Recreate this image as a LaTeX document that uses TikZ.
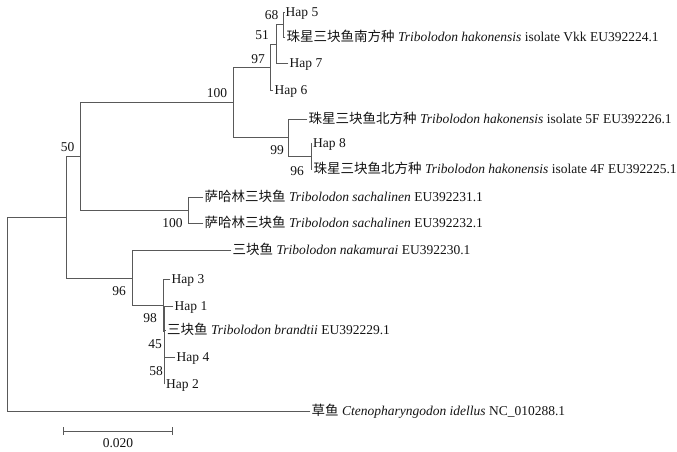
\documentclass[tikz,border=0pt]{standalone}
\usepackage{fontspec}
\setmainfont{Liberation Serif}
\newfontfamily\cjk{Noto Sans CJK SC}
\definecolor{treecol}{gray}{0.35}
\definecolor{txtcol}{gray}{0.08}
\newcommand{\fs}{\fontsize{13.5}{16}\selectfont}
\begin{document}
\begin{tikzpicture}[x=1pt,y=-1pt,
  br/.style={draw=treecol, line width=0.8pt, line cap=rect},
  tip/.style={anchor=west, inner sep=1.5pt, text height=9.5pt, text depth=0pt, font=\fs, text=txtcol},
  bs/.style={inner sep=0pt, font=\fs, text=txtcol}]
\useasboundingbox (0,0) rectangle (677,452);
% tips
\coordinate (tHap5) at (284,12);
\coordinate (tVkk) at (285,37);
\coordinate (tHap7) at (288,63);
\coordinate (tHap6) at (273,90);
\coordinate (t5F) at (307,119);
\coordinate (tHap8) at (311.5,143);
\coordinate (t4F) at (312,169);
\coordinate (tS1) at (203,197);
\coordinate (tS2) at (203,223);
\coordinate (tNak) at (231,250);
\coordinate (tHap3) at (170,279);
\coordinate (tHap1) at (173,306);
\coordinate (tBra) at (165.5,330);
\coordinate (tHap4) at (175,357);
\coordinate (tHap2) at (164.5,384);
\coordinate (tIde) at (310,411);
% internal nodes
\coordinate (n68) at (283.5,24.5);
\coordinate (n51) at (276,44);
\coordinate (n97) at (270,67);
\coordinate (n96a) at (311,156);
\coordinate (n99) at (288,137.5);
\coordinate (n100a) at (233,102.5);
\coordinate (nS) at (188,210);
\coordinate (nX) at (80,156.5);
\coordinate (n58) at (164.5,357);
\coordinate (n45) at (164,331.5);
\coordinate (n98) at (163,305);
\coordinate (n96b) at (132,278);
\coordinate (n50) at (66,217.5);
\coordinate (root) at (7,314);
% branches
\draw[br] (n68) |- (tHap5);
\draw[br] (n68) |- (tVkk);
\draw[br] (n51) |- (n68);
\draw[br] (n51) |- (tHap7);
\draw[br] (n97) |- (n51);
\draw[br] (n97) |- (tHap6);
\draw[br] (n96a) |- (tHap8);
\draw[br] (n96a) |- (t4F);
\draw[br] (n99) |- (t5F);
\draw[br] (n99) |- (n96a);
\draw[br] (n100a) |- (n97);
\draw[br] (n100a) |- (n99);
\draw[br] (nS) |- (tS1);
\draw[br] (nS) |- (tS2);
\draw[br] (nX) |- (n100a);
\draw[br] (nX) |- (nS);
\draw[br] (n58) |- (tBra);
\draw[br] (n58) |- (tHap4);
\draw[br] (n58) |- (tHap2);
\draw[br] (n45) |- (tHap1);
\draw[br] (n45) |- (n58);
\draw[br] (n98) |- (tHap3);
\draw[br] (n98) |- (n45);
\draw[br] (n96b) |- (tNak);
\draw[br] (n96b) |- (n98);
\draw[br] (n50) |- (nX);
\draw[br] (n50) |- (n96b);
\draw[br] (root) |- (n50);
\draw[br] (root) |- (tIde);
% tip labels
\node[tip] (LHap5) at (tHap5) {Hap 5};
\node[tip] (LVkk) at (tVkk) {{\cjk 珠星三块鱼南方种} \textit{Tribolodon hakonensis} isolate Vkk EU392224.1};
\node[tip] (LHap7) at (tHap7) {Hap 7};
\node[tip] (LHap6) at (tHap6) {Hap 6};
\node[tip] (L5F) at (t5F) {{\cjk 珠星三块鱼北方种} \textit{Tribolodon hakonensis} isolate 5F EU392226.1};
\node[tip] (LHap8) at (tHap8) {Hap 8};
\node[tip] (L4F) at (t4F) {{\cjk 珠星三块鱼北方种} \textit{Tribolodon hakonensis} isolate 4F EU392225.1};
\node[tip] (LS1) at (tS1) {{\cjk 萨哈林三块鱼} \textit{Tribolodon sachalinen} EU392231.1};
\node[tip] (LS2) at (tS2) {{\cjk 萨哈林三块鱼} \textit{Tribolodon sachalinen} EU392232.1};
\node[tip] (LNak) at (tNak) {{\cjk 三块鱼} \textit{Tribolodon nakamurai} EU392230.1};
\node[tip] (LHap3) at (tHap3) {Hap 3};
\node[tip] (LHap1) at (tHap1) {Hap 1};
\node[tip] (LBra) at (tBra) {{\cjk 三块鱼} \textit{Tribolodon brandtii} EU392229.1};
\node[tip] (LHap4) at (tHap4) {Hap 4};
\node[tip] (LHap2) at (tHap2) {Hap 2};
\node[tip] (LIde) at (tIde) {{\cjk 草鱼} \textit{Ctenopharyngodon idellus} NC\_010288.1};
% bootstrap values
\node[bs] (b68) at (271.5,15) {68};
\node[bs] (b51) at (262,35) {51};
\node[bs] (b97) at (258,59) {97};
\node[bs] (b100a) at (217,93) {100};
\node[bs] (b99) at (277,150) {99};
\node[bs] (b96a) at (297,171) {96};
\node[bs] (b50) at (67.5,147) {50};
\node[bs] (b100b) at (172.5,223) {100};
\node[bs] (b96b) at (119,291) {96};
\node[bs] (b98) at (150,318) {98};
\node[bs] (b45) at (155,344) {45};
\node[bs] (b58) at (156,371) {58};
% scale bar
\coordinate (sb1) at (63,431);
\coordinate (sb2) at (172,431);
\draw[br, line cap=butt] (sb1) -- (sb2);
\draw[br, line cap=butt] ([yshift=4pt]sb1) -- ([yshift=-4pt]sb1);
\draw[br, line cap=butt] ([yshift=4pt]sb2) -- ([yshift=-4pt]sb2);
\node[bs] (sblab) at (118,443) {0.020};
\end{tikzpicture}
\end{document}
